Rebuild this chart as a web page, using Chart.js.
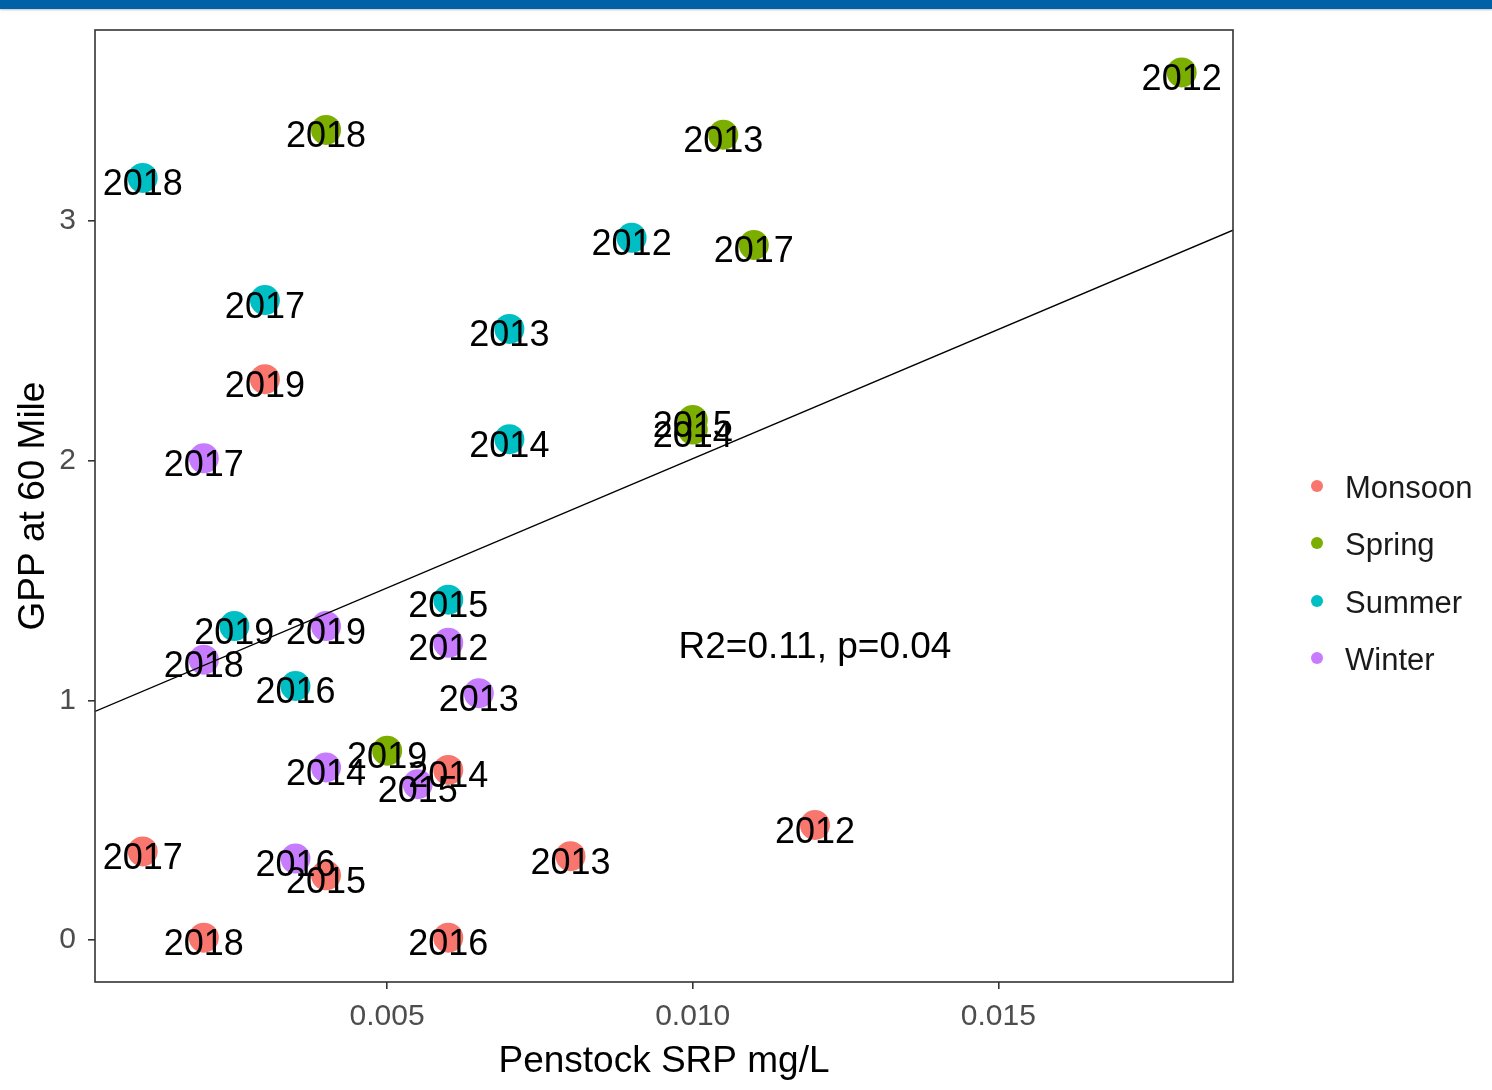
<!DOCTYPE html>
<html>
<head>
<meta charset="utf-8">
<script src="https://cdn.jsdelivr.net/npm/chart.js@4"></script>
<style>
  html, body { margin: 0; padding: 0; background: #ffffff; }
  #wrap { position: relative; width: 1492px; height: 1090px; overflow: hidden; }
  #topbar { position: absolute; left: 0; top: 0; width: 1492px; height: 9px; background: #0061a6; box-shadow: 0 1px 2px rgba(0,0,0,0.25); z-index: 2; }
  canvas { position: absolute; left: 0; top: 0; }
</style>
</head>
<body>
<div id="wrap">
  <div id="topbar"></div>
  <canvas id="chart" width="1492" height="1090"></canvas>
</div>
<script>
// Seasons and their colours
const seasons = ['Monsoon', 'Spring', 'Summer', 'Winter'];
const seasonColors = ['#F8766D', '#7CAE00', '#00BFC4', '#C77CFF'];

// Monsoon
const monsoonYears = ['2019', '2014', '2012', '2013', '2017', '2015', '2018', '2016'];
const monsoonSRP   = [0.003, 0.006, 0.012, 0.008, 0.001, 0.004, 0.002, 0.006];
const monsoonGPP   = [2.34, 0.71, 0.48, 0.35, 0.37, 0.27, 0.01, 0.01];

// Spring
const springYears = ['2012', '2018', '2013', '2017', '2015', '2014', '2019'];
const springSRP   = [0.018, 0.004, 0.0105, 0.011, 0.010, 0.010, 0.005];
const springGPP   = [3.62, 3.38, 3.36, 2.90, 2.17, 2.13, 0.79];

// Summer
const summerYears = ['2018', '2012', '2017', '2013', '2014', '2015', '2019', '2016'];
const summerSRP   = [0.001, 0.009, 0.003, 0.007, 0.007, 0.006, 0.0025, 0.0035];
const summerGPP   = [3.18, 2.93, 2.67, 2.55, 2.09, 1.42, 1.31, 1.06];

// Winter
const winterYears = ['2017', '2019', '2012', '2018', '2013', '2014', '2015', '2016'];
const winterSRP   = [0.002, 0.004, 0.006, 0.002, 0.0065, 0.004, 0.0055, 0.0035];
const winterGPP   = [2.01, 1.31, 1.24, 1.17, 1.03, 0.72, 0.65, 0.34];

// Axis ticks and limits
const xTicks = [0.005, 0.010, 0.015];
const yTicks = [0, 1, 2, 3];
const xMin = 0.00022, xMax = 0.01884;
const yMin = -0.175, yMax = 3.797;

// Fit annotation
const statText = 'R2=0.11, p=0.04';
const statAt = { x: 0.012, y: 1.25 };

const groupYears = [monsoonYears, springYears, summerYears, winterYears];
const groupSRP = [monsoonSRP, springSRP, summerSRP, winterSRP];
const groupGPP = [monsoonGPP, springGPP, summerGPP, winterGPP];

// Ordinary least squares over every observation
function fitLine() {
  const xs = [], ys = [];
  groupSRP.forEach((arr, g) => arr.forEach((v, i) => { xs.push(v); ys.push(groupGPP[g][i]); }));
  const n = xs.length;
  const mx = xs.reduce((a, b) => a + b, 0) / n;
  const my = ys.reduce((a, b) => a + b, 0) / n;
  let sxy = 0, sxx = 0;
  for (let i = 0; i < n; i++) { sxy += (xs[i] - mx) * (ys[i] - my); sxx += (xs[i] - mx) * (xs[i] - mx); }
  const slope = sxy / sxx;
  return { slope, intercept: my - slope * mx };
}
const fit = fitLine();

const FONT = "'Liberation Sans', Arial, sans-serif";

const datasets = seasons.map((name, g) => ({
  type: 'scatter',
  label: name,
  data: groupSRP[g].map((v, i) => ({ x: v, y: groupGPP[g][i] })),
  years: groupYears[g],
  backgroundColor: seasonColors[g],
  borderWidth: 0,
  pointRadius: 15,
  pointHoverRadius: 15,
  order: 2
}));
datasets.push({
  type: 'line',
  label: 'fit',
  data: [xMin, xMax].map(x => ({ x, y: fit.intercept + fit.slope * x })),
  borderColor: '#000000',
  borderWidth: 1.4,
  pointRadius: 0,
  fill: false,
  order: 1
});

// Year labels, stat text, panel border and legend
const decorations = {
  id: 'decorations',
  afterDatasetsDraw(chart) {
    const ctx = chart.ctx;
    const xs = chart.scales.x, ys = chart.scales.y;
    ctx.save();
    ctx.font = '36px ' + FONT;
    ctx.fillStyle = '#000000';
    ctx.textAlign = 'center';
    ctx.textBaseline = 'alphabetic';
    chart.data.datasets.forEach((ds, di) => {
      if (!ds.years) return;
      chart.getDatasetMeta(di).data.forEach((pt, i) => {
        ctx.fillText(ds.years[i], pt.x, pt.y + 17.5);
      });
    });
    ctx.font = '37px ' + FONT;
    ctx.fillText(statText, xs.getPixelForValue(statAt.x), ys.getPixelForValue(statAt.y) + 17.5);

    const a = chart.chartArea;
    ctx.strokeStyle = '#333333';
    ctx.lineWidth = 1.6;
    ctx.strokeRect(a.left, a.top, a.right - a.left, a.bottom - a.top);

    // legend
    const legendY = [489, 546, 604, 661];
    ctx.font = '31px ' + FONT;
    ctx.textAlign = 'left';
    ctx.textBaseline = 'middle';
    seasons.forEach((s, g) => {
      ctx.fillStyle = seasonColors[g];
      ctx.beginPath();
      ctx.arc(1317, legendY[g] - 3, 6, 0, Math.PI * 2);
      ctx.fill();
      ctx.fillStyle = '#1a1a1a';
      ctx.fillText(s, 1345, legendY[g]);
    });
    ctx.restore();
  }
};

new Chart(document.getElementById('chart'), {
  data: { datasets },
  options: {
    responsive: false,
    animation: false,
    events: [],
    layout: { padding: { top: 30, right: 259, left: 0, bottom: 0 } },
    plugins: { legend: { display: false }, tooltip: { enabled: false } },
    scales: {
      x: {
        type: 'linear',
        min: xMin, max: xMax,
        afterBuildTicks(scale) { scale.ticks = xTicks.map(v => ({ value: v })); },
        afterFit(scale) { scale.height = 108; },
        ticks: {
          color: '#4d4d4d',
          font: { family: FONT, size: 30 },
          padding: 10,
          maxRotation: 0,
          callback: v => v.toFixed(3)
        },
        grid: { drawOnChartArea: false, drawTicks: true, tickLength: 7, color: '#333333', lineWidth: 1.6 },
        border: { display: false },
        title: {
          display: true,
          text: 'Penstock SRP mg/L',
          color: '#000000',
          font: { family: FONT, size: 37 },
          padding: { top: 0, bottom: 6 }
        }
      },
      y: {
        type: 'linear',
        min: yMin, max: yMax,
        afterBuildTicks(scale) { scale.ticks = yTicks.map(v => ({ value: v })); },
        afterFit(scale) { scale.width = 95; },
        ticks: {
          color: '#4d4d4d',
          font: { family: FONT, size: 30 },
          padding: 12,
          callback: v => String(v)
        },
        grid: { drawOnChartArea: false, drawTicks: true, tickLength: 7, color: '#333333', lineWidth: 1.6 },
        border: { display: false },
        title: {
          display: true,
          text: 'GPP at 60 Mile',
          color: '#000000',
          font: { family: FONT, size: 37 },
          padding: { top: 12, bottom: 0 }
        }
      }
    }
  },
  plugins: [decorations]
});
</script>
</body>
</html>
